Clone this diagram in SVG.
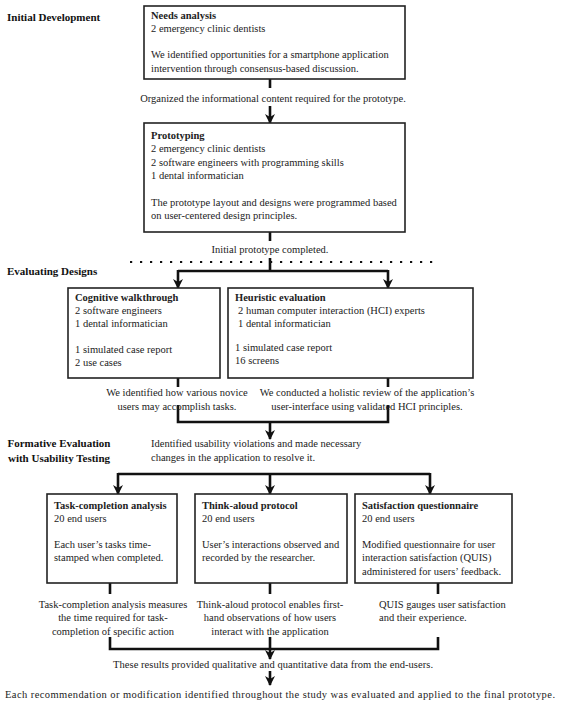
<svg xmlns="http://www.w3.org/2000/svg" width="561" height="707" viewBox="0 0 561 707">
<defs>
<style>
text{font-family:"Liberation Serif","Times New Roman",serif;font-size:10.5px;fill:#222}
.b{font-weight:bold}
.sec{font-weight:bold;font-size:11px;fill:#111}
.c{text-anchor:middle}
.box{fill:#fff;stroke:#222;stroke-width:1.6}
.ln{fill:none;stroke:#111;stroke-width:2.6}
.dot{fill:none;stroke:#111;stroke-width:2.2;stroke-dasharray:2.2 7.8}
</style>
<marker id="ah" viewBox="0 0 10 10" refX="9" refY="5" markerWidth="10" markerHeight="10" markerUnits="userSpaceOnUse" orient="auto">
<path d="M0,0 L10,5 L0,10 L3,5 Z" fill="#111"/>
</marker>
</defs>
<rect width="561" height="707" fill="#fff"/>

<g id="sections">
<text class="sec" x="7" y="21">Initial Development</text>
<text class="sec" x="7" y="275">Evaluating Designs</text>
<text class="sec c" x="59" y="447">Formative Evaluation</text>
<text class="sec c" x="59" y="462">with Usability Testing</text>
</g>

<g id="connectors">
<line class="ln" x1="270" y1="79" x2="270" y2="88"/>
<line class="ln" x1="270" y1="106" x2="270" y2="123" marker-end="url(#ah)"/>
<line class="ln" x1="270" y1="232" x2="270" y2="241"/>
<line class="dot" x1="130" y1="262" x2="440" y2="262"/>
<path class="ln" d="M270,258 V271 M178,271 H388"/>
<line class="ln" x1="178" y1="270" x2="178" y2="288" marker-end="url(#ah)"/>
<line class="ln" x1="388" y1="270" x2="388" y2="288" marker-end="url(#ah)"/>
<line class="ln" x1="178" y1="378" x2="178" y2="387"/>
<line class="ln" x1="388" y1="378" x2="388" y2="387"/>
<path class="ln" d="M178,405 V422 H388 V405"/>
<line class="ln" x1="270" y1="421" x2="270" y2="439" marker-end="url(#ah)"/>
<line class="ln" x1="118" y1="474" x2="430" y2="474"/>
<line class="ln" x1="118" y1="473" x2="118" y2="494" marker-end="url(#ah)"/>
<line class="ln" x1="270" y1="473" x2="270" y2="494" marker-end="url(#ah)"/>
<line class="ln" x1="430" y1="473" x2="430" y2="494" marker-end="url(#ah)"/>
<line class="ln" x1="110" y1="583" x2="110" y2="594"/>
<line class="ln" x1="270" y1="583" x2="270" y2="594"/>
<line class="ln" x1="438" y1="583" x2="438" y2="594"/>
<path class="ln" d="M110,637 V649 H438 V637"/>
<line class="ln" x1="270" y1="637" x2="270" y2="659" marker-end="url(#ah)"/>
<line class="ln" x1="270" y1="671" x2="270" y2="685" marker-end="url(#ah)"/>
</g>

<g id="labels">
<text class="c" x="273" y="102">Organized the informational content required for the prototype.</text>
<text class="c" x="270" y="253">Initial prototype completed.</text>
<text class="c" x="177" y="396">We identified how various novice</text>
<text class="c" x="177" y="410">users may accomplish tasks.</text>
<text class="c" x="367" y="396">We conducted a holistic review of the application’s</text>
<text class="c" x="367" y="410">user-interface using validated HCI principles.</text>
<text x="151" y="447">Identified usability violations and made necessary</text>
<text x="151" y="461">changes in the application to resolve it.</text>
<text class="c" x="113" y="608">Task-completion analysis measures</text>
<text class="c" x="113" y="621">the time required for task-</text>
<text class="c" x="113" y="635">completion of specific action</text>
<text class="c" x="270" y="608">Think-aloud protocol enables first-</text>
<text class="c" x="270" y="621">hand observations of how users</text>
<text class="c" x="270" y="635">interact with the application</text>
<text x="379" y="608">QUIS gauges user satisfaction</text>
<text x="379" y="621">and their experience.</text>
<text class="c" x="273" y="668" textLength="320" lengthAdjust="spacing">These results provided qualitative and quantitative data from the end-users.</text>
<text class="c" x="280" y="698" textLength="550" lengthAdjust="spacing">Each recommendation or modification identified throughout the study was evaluated and applied to the final prototype.</text>
</g>

<g id="needs-analysis">
<rect class="box" x="144" y="6" width="261" height="73"/>
<text class="b" x="151" y="19">Needs analysis</text>
<text x="151" y="32">2 emergency clinic dentists</text>
<text x="151" y="58">We identified opportunities for a smartphone application</text>
<text x="151" y="72">intervention through consensus-based discussion.</text>
</g>

<g id="prototyping">
<rect class="box" x="144" y="123" width="261" height="109"/>
<text class="b" x="151" y="139">Prototyping</text>
<text x="151" y="152">2 emergency clinic dentists</text>
<text x="151" y="166">2 software engineers with programming skills</text>
<text x="151" y="179">1 dental informatician</text>
<text x="151" y="206">The prototype layout and designs were programmed based</text>
<text x="151" y="219">on user-centered design principles.</text>
</g>

<g id="cognitive-walkthrough">
<rect class="box" x="68" y="288" width="152" height="90"/>
<text class="b" x="75" y="301">Cognitive walkthrough</text>
<text x="75" y="314">2 software engineers</text>
<text x="75" y="327">1 dental informatician</text>
<text x="75" y="353">1 simulated case report</text>
<text x="75" y="366">2 use cases</text>
</g>

<g id="heuristic-evaluation">
<rect class="box" x="228" y="288" width="245" height="90"/>
<text class="b" x="235" y="301">Heuristic evaluation</text>
<text x="238" y="314">2 human computer interaction (HCI) experts</text>
<text x="238" y="327">1 dental informatician</text>
<text x="235" y="351">1 simulated case report</text>
<text x="235" y="364">16 screens</text>
</g>

<g id="task-completion">
<rect class="box" x="47" y="494" width="130" height="89"/>
<text class="b" x="54" y="509">Task-completion analysis</text>
<text x="54" y="522">20 end users</text>
<text x="54" y="548">Each user’s tasks time-</text>
<text x="54" y="561">stamped when completed.</text>
</g>

<g id="think-aloud">
<rect class="box" x="195" y="494" width="152" height="89"/>
<text class="b" x="202" y="509">Think-aloud protocol</text>
<text x="202" y="522">20 end users</text>
<text x="202" y="548">User’s interactions observed and</text>
<text x="202" y="561">recorded by the researcher.</text>
</g>

<g id="satisfaction">
<rect class="box" x="355" y="494" width="157" height="89"/>
<text class="b" x="362" y="509">Satisfaction questionnaire</text>
<text x="362" y="522">20 end users</text>
<text x="362" y="548">Modified questionnaire for user</text>
<text x="362" y="561">interaction satisfaction (QUIS)</text>
<text x="362" y="575">administered for users’ feedback.</text>
</g>
</svg>
